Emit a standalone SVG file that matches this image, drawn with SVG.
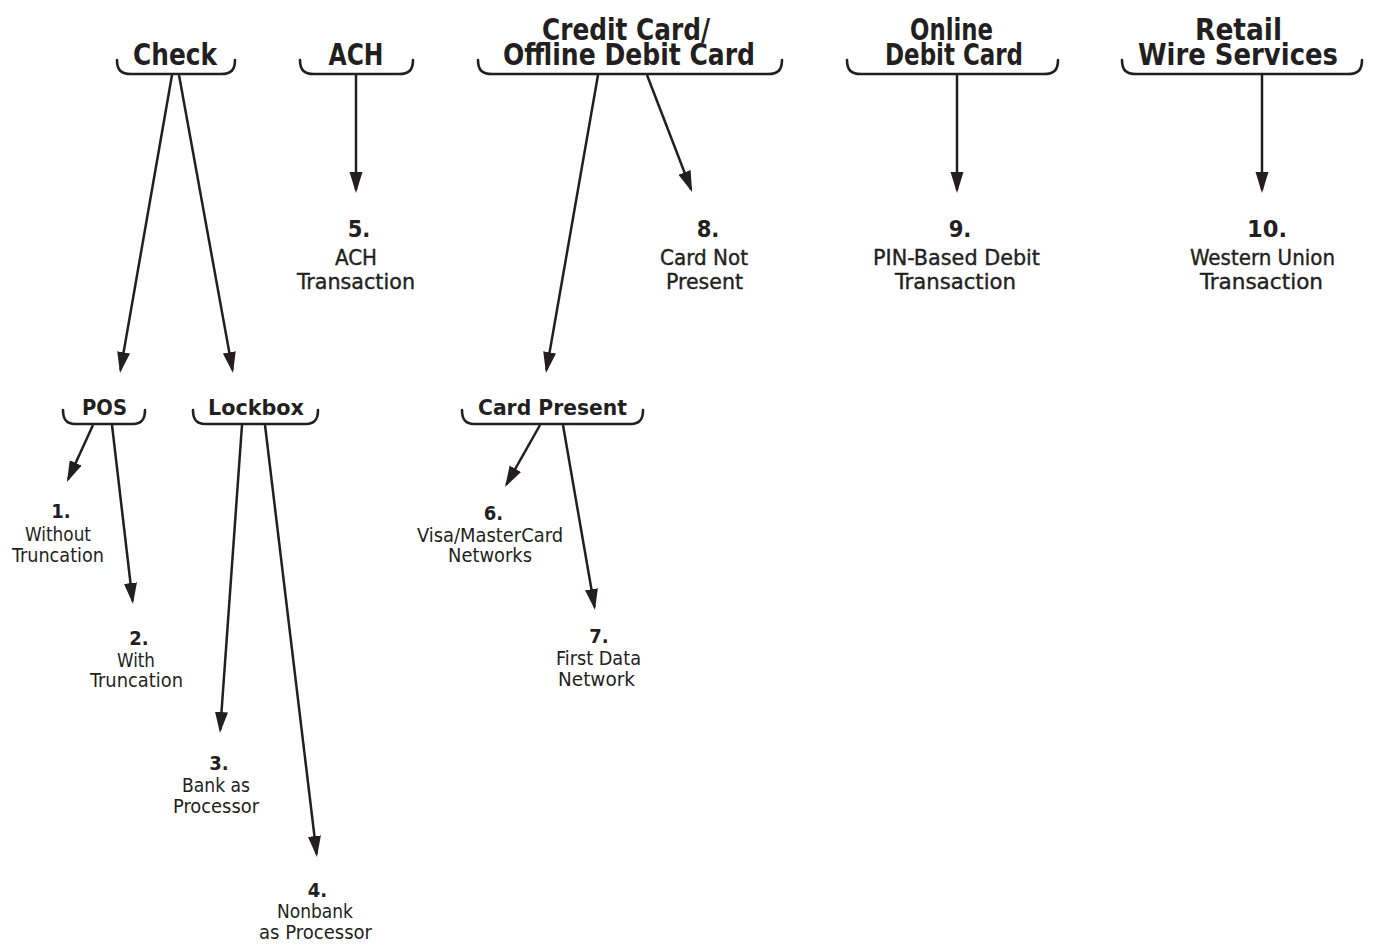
<svg xmlns="http://www.w3.org/2000/svg" width="1385" height="946" viewBox="0 0 1385 946">
  <style>
    text { font-family: "Liberation Sans Narrow", "DejaVu Sans Condensed", "Liberation Sans", sans-serif; fill: #231f20; text-anchor: middle; }
    .h1 { font-size: 30.5px; font-weight: bold; }
    .h2 { font-size: 21.5px; font-weight: bold; }
    .num { font-size: 23.5px; font-weight: bold; }
    .lbl { font-size: 21px; stroke: #231f20; stroke-width: 0.35; }
    .snum { font-size: 20px; font-weight: bold; }
    .slbl { font-size: 19px; }
    .brace { fill: none; stroke: #231f20; stroke-width: 2.6; stroke-linecap: round; }
    .conn line { stroke: #231f20; stroke-width: 2.5; marker-end: url(#head); }
  </style>
  <defs>
    <marker id="head" markerUnits="userSpaceOnUse" markerWidth="22" markerHeight="14" refX="18" refY="6.5" orient="auto">
      <path d="M0,0 L21,6.5 L0,13 Z" fill="#231f20"/>
    </marker>
  </defs>
  <rect width="1385" height="946" fill="#ffffff"/>

  <!-- payment categories -->
  <g id="check">
    <path class="brace" d="M117,60 C117,70 121,74 131,74 L221,74 C231,74 235,70 235,60"/>
    <text class="h1" x="175" y="65" textLength="84" lengthAdjust="spacingAndGlyphs">Check</text>
  </g>
  <g id="ach">
    <path class="brace" d="M300,60 C300,70 304,74 314,74 L399,74 C409,74 413,70 413,60"/>
    <text class="h1" x="356" y="65" textLength="55" lengthAdjust="spacingAndGlyphs">ACH</text>
  </g>
  <g id="credit-card">
    <path class="brace" d="M478,60 C478,70 482,74 492,74 L768,74 C778,74 782,70 782,60"/>
    <text class="h1"><tspan x="626" y="40" textLength="168" lengthAdjust="spacingAndGlyphs">Credit Card/</tspan><tspan x="629" y="65" textLength="252" lengthAdjust="spacingAndGlyphs">Offline Debit Card</tspan></text>
  </g>
  <g id="online-debit">
    <path class="brace" d="M847,60 C847,70 851,74 861,74 L1044,74 C1054,74 1058,70 1058,60"/>
    <text class="h1"><tspan x="951.5" y="40" textLength="83" lengthAdjust="spacingAndGlyphs">Online</tspan><tspan x="954" y="65" textLength="138" lengthAdjust="spacingAndGlyphs">Debit Card</tspan></text>
  </g>
  <g id="retail-wire">
    <path class="brace" d="M1122,60 C1122,70 1126,74 1136,74 L1348,74 C1358,74 1362,70 1362,60"/>
    <text class="h1"><tspan x="1238.5" y="40" textLength="87" lengthAdjust="spacingAndGlyphs">Retail</tspan><tspan x="1238" y="65" textLength="200" lengthAdjust="spacingAndGlyphs">Wire Services</tspan></text>
  </g>

  <!-- sub-channels -->
  <g id="pos">
    <path class="brace" d="M63,410 C63,419 66,424 75,424 L133,424 C142,424 145,419 145,410"/>
    <text class="h2" x="104.5" y="415" textLength="45" lengthAdjust="spacingAndGlyphs">POS</text>
  </g>
  <g id="lockbox">
    <path class="brace" d="M193,410 C193,419 196,424 205,424 L306,424 C315,424 318,419 318,410"/>
    <text class="h2" x="256" y="415" textLength="96" lengthAdjust="spacingAndGlyphs">Lockbox</text>
  </g>
  <g id="card-present">
    <path class="brace" d="M462,410 C462,419 465,424 474,424 L631,424 C640,424 643,419 643,410"/>
    <text class="h2" x="552.5" y="415" textLength="149" lengthAdjust="spacingAndGlyphs">Card Present</text>
  </g>

  <!-- numbered outcomes -->
  <g id="out-1">
    <text class="snum" x="61" y="518">1.</text>
    <text class="slbl" x="58" y="541" textLength="66" lengthAdjust="spacingAndGlyphs">Without</text>
    <text class="slbl" x="58" y="562" textLength="92" lengthAdjust="spacingAndGlyphs">Truncation</text>
  </g>
  <g id="out-2">
    <text class="snum" x="139" y="645">2.</text>
    <text class="slbl" x="136" y="667" textLength="38" lengthAdjust="spacingAndGlyphs">With</text>
    <text class="slbl" x="136.5" y="687" textLength="93" lengthAdjust="spacingAndGlyphs">Truncation</text>
  </g>
  <g id="out-3">
    <text class="snum" x="219" y="770">3.</text>
    <text class="slbl" x="216" y="792" textLength="68" lengthAdjust="spacingAndGlyphs">Bank as</text>
    <text class="slbl" x="216" y="813" textLength="86" lengthAdjust="spacingAndGlyphs">Processor</text>
  </g>
  <g id="out-4">
    <text class="snum" x="317.5" y="897">4.</text>
    <text class="slbl" x="315" y="918" textLength="76" lengthAdjust="spacingAndGlyphs">Nonbank</text>
    <text class="slbl" x="315.5" y="939" textLength="113" lengthAdjust="spacingAndGlyphs">as Processor</text>
  </g>
  <g id="out-5">
    <text class="num" x="359" y="237">5.</text>
    <text class="lbl" x="356" y="265" textLength="42" lengthAdjust="spacingAndGlyphs">ACH</text>
    <text class="lbl" x="356" y="289" textLength="118" lengthAdjust="spacingAndGlyphs">Transaction</text>
  </g>
  <g id="out-6">
    <text class="snum" x="493.5" y="520">6.</text>
    <text class="slbl" x="490" y="542" textLength="146" lengthAdjust="spacingAndGlyphs">Visa/MasterCard</text>
    <text class="slbl" x="490" y="562" textLength="84" lengthAdjust="spacingAndGlyphs">Networks</text>
  </g>
  <g id="out-7">
    <text class="snum" x="599" y="643">7.</text>
    <text class="slbl" x="598.5" y="665" textLength="85" lengthAdjust="spacingAndGlyphs">First Data</text>
    <text class="slbl" x="596.5" y="686" textLength="77" lengthAdjust="spacingAndGlyphs">Network</text>
  </g>
  <g id="out-8">
    <text class="num" x="708" y="237">8.</text>
    <text class="lbl" x="704" y="265" textLength="88" lengthAdjust="spacingAndGlyphs">Card Not</text>
    <text class="lbl" x="704.5" y="289" textLength="77" lengthAdjust="spacingAndGlyphs">Present</text>
  </g>
  <g id="out-9">
    <text class="num" x="960" y="237">9.</text>
    <text class="lbl" x="956.5" y="265" textLength="167" lengthAdjust="spacingAndGlyphs">PIN-Based Debit</text>
    <text class="lbl" x="955.5" y="289" textLength="121" lengthAdjust="spacingAndGlyphs">Transaction</text>
  </g>
  <g id="out-10">
    <text class="num" x="1267" y="237" textLength="40" lengthAdjust="spacingAndGlyphs">10.</text>
    <text class="lbl" x="1262.5" y="265" textLength="145" lengthAdjust="spacingAndGlyphs">Western Union</text>
    <text class="lbl" x="1261.5" y="289" textLength="123" lengthAdjust="spacingAndGlyphs">Transaction</text>
  </g>

  <!-- connectors: each line stops 3px short of the arrow tip -->
  <g id="connectors" class="conn">
    <line x1="172" y1="75" x2="120.5" y2="370"/>
    <line x1="179" y1="75" x2="232.5" y2="370"/>
    <line x1="356" y1="75" x2="356" y2="190"/>
    <line x1="598" y1="75" x2="546.5" y2="370"/>
    <line x1="647" y1="75" x2="691" y2="189.2"/>
    <line x1="957" y1="75" x2="957" y2="190"/>
    <line x1="1262" y1="75" x2="1262" y2="190"/>
    <line x1="93" y1="425" x2="68.2" y2="479.3"/>
    <line x1="112" y1="425" x2="132.6" y2="601"/>
    <line x1="242" y1="425" x2="220.2" y2="730"/>
    <line x1="265" y1="425" x2="316.6" y2="854"/>
    <line x1="540" y1="425" x2="506.5" y2="484.4"/>
    <line x1="563" y1="425" x2="594.5" y2="607"/>
  </g>
</svg>
